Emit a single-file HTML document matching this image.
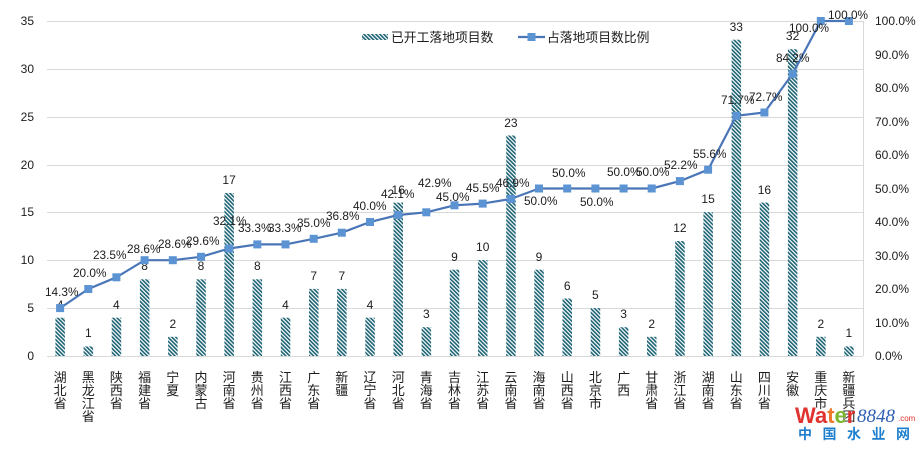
<!DOCTYPE html>
<html><head><meta charset="utf-8"><style>
html,body{margin:0;padding:0;background:#fff;}
svg{display:block;}
text{font-family:"Liberation Sans","Noto Sans CJK SC",sans-serif;fill:#1c1c1c;}
</style></head><body>
<svg width="923" height="451" viewBox="0 0 923 451" xmlns="http://www.w3.org/2000/svg">
<defs>
<pattern id="st" width="2.8" height="10" patternUnits="userSpaceOnUse" patternTransform="rotate(-45)">
<rect width="2.8" height="10" fill="#ffffff"/><rect width="1.6" height="10" fill="#1b6373"/>
</pattern>
</defs>
<rect width="923" height="451" fill="#fff"/>
<!-- gridlines -->
<g stroke="#d9d9d9" stroke-width="1">
<line x1="47" y1="21.5" x2="863" y2="21.5"/>
<line x1="47" y1="69.5" x2="863" y2="69.5"/>
<line x1="47" y1="117.5" x2="863" y2="117.5"/>
<line x1="47" y1="165.5" x2="863" y2="165.5"/>
<line x1="47" y1="212.5" x2="863" y2="212.5"/>
<line x1="47" y1="260.5" x2="863" y2="260.5"/>
<line x1="47" y1="308.5" x2="863" y2="308.5"/>
<line x1="47" y1="356.5" x2="863" y2="356.5"/>
<line x1="863.5" y1="21" x2="863.5" y2="356"/>
</g>
<!-- left axis -->
<g font-size="12" text-anchor="end">
<text x="34" y="25">35</text>
<text x="34" y="73">30</text>
<text x="34" y="121">25</text>
<text x="34" y="169">20</text>
<text x="34" y="216">15</text>
<text x="34" y="264">10</text>
<text x="34" y="312">5</text>
<text x="34" y="360">0</text>
</g>
<!-- right axis -->
<g font-size="12">
<text x="875" y="25">100.0%</text>
<text x="875" y="59">90.0%</text>
<text x="875" y="92">80.0%</text>
<text x="875" y="126">70.0%</text>
<text x="875" y="159">60.0%</text>
<text x="875" y="193">50.0%</text>
<text x="875" y="226">40.0%</text>
<text x="875" y="260">30.0%</text>
<text x="875" y="293">20.0%</text>
<text x="875" y="327">10.0%</text>
<text x="875" y="360">0.0%</text>
</g>
<!-- bars -->
<g fill="url(#st)">
<rect x="55.4" y="317.7" width="9.5" height="38.3"/>
<rect x="83.6" y="346.4" width="9.5" height="9.6"/>
<rect x="111.7" y="317.7" width="9.5" height="38.3"/>
<rect x="139.9" y="279.3" width="9.5" height="76.7"/>
<rect x="168.1" y="336.8" width="9.5" height="19.2"/>
<rect x="196.3" y="279.3" width="9.5" height="76.7"/>
<rect x="224.4" y="193.0" width="9.5" height="163.0"/>
<rect x="252.6" y="279.3" width="9.5" height="76.7"/>
<rect x="280.8" y="317.7" width="9.5" height="38.3"/>
<rect x="309.0" y="288.9" width="9.5" height="67.1"/>
<rect x="337.1" y="288.9" width="9.5" height="67.1"/>
<rect x="365.3" y="317.7" width="9.5" height="38.3"/>
<rect x="393.5" y="202.6" width="9.5" height="153.4"/>
<rect x="421.6" y="327.2" width="9.5" height="28.8"/>
<rect x="449.8" y="269.7" width="9.5" height="86.3"/>
<rect x="478.0" y="260.1" width="9.5" height="95.9"/>
<rect x="506.2" y="135.5" width="9.5" height="220.5"/>
<rect x="534.3" y="269.7" width="9.5" height="86.3"/>
<rect x="562.5" y="298.5" width="9.5" height="57.5"/>
<rect x="590.7" y="308.1" width="9.5" height="47.9"/>
<rect x="618.9" y="327.2" width="9.5" height="28.8"/>
<rect x="647.0" y="336.8" width="9.5" height="19.2"/>
<rect x="675.2" y="241.0" width="9.5" height="115.0"/>
<rect x="703.4" y="212.2" width="9.5" height="143.8"/>
<rect x="731.6" y="39.7" width="9.5" height="316.3"/>
<rect x="759.7" y="202.6" width="9.5" height="153.4"/>
<rect x="787.9" y="49.2" width="9.5" height="306.8"/>
<rect x="816.1" y="336.8" width="9.5" height="19.2"/>
<rect x="844.2" y="346.4" width="9.5" height="9.6"/>
</g>
<!-- bar labels -->
<g font-size="12" text-anchor="middle">
<text x="60.1" y="309">4</text>
<text x="88.3" y="337">1</text>
<text x="116.4" y="309">4</text>
<text x="144.6" y="270">8</text>
<text x="172.8" y="328">2</text>
<text x="201.0" y="270">8</text>
<text x="229.1" y="184">17</text>
<text x="257.3" y="270">8</text>
<text x="285.5" y="309">4</text>
<text x="313.7" y="280">7</text>
<text x="341.8" y="280">7</text>
<text x="370.0" y="309">4</text>
<text x="398.2" y="194">16</text>
<text x="426.3" y="318">3</text>
<text x="454.5" y="261">9</text>
<text x="482.7" y="251">10</text>
<text x="510.9" y="127">23</text>
<text x="539.0" y="261">9</text>
<text x="567.2" y="290">6</text>
<text x="595.4" y="299">5</text>
<text x="623.6" y="318">3</text>
<text x="651.7" y="328">2</text>
<text x="679.9" y="232">12</text>
<text x="708.1" y="203">15</text>
<text x="736.3" y="31">33</text>
<text x="764.4" y="194">16</text>
<text x="792.6" y="40">32</text>
<text x="820.8" y="328">2</text>
<text x="848.9" y="337">1</text>
</g>
<!-- line -->
<polyline fill="none" stroke="#4a76b8" stroke-width="2.2" stroke-linejoin="round" points="60.1,308.1 88.3,289.0 116.4,277.3 144.6,260.2 172.8,260.2 201.0,256.8 229.1,248.5 257.3,244.4 285.5,244.4 313.7,238.8 341.8,232.7 370.0,222.0 398.2,215.0 426.3,212.3 454.5,205.3 482.7,203.6 510.9,198.9 539.0,188.5 567.2,188.5 595.4,188.5 623.6,188.5 651.7,188.5 679.9,181.1 708.1,169.7 736.3,115.8 764.4,112.5 792.6,73.9 820.8,21.0 848.9,21.0"/>
<g fill="#5b93d3">
<rect x="56.1" y="304.1" width="8" height="8"/>
<rect x="84.3" y="285.0" width="8" height="8"/>
<rect x="112.4" y="273.3" width="8" height="8"/>
<rect x="140.6" y="256.2" width="8" height="8"/>
<rect x="168.8" y="256.2" width="8" height="8"/>
<rect x="197.0" y="252.8" width="8" height="8"/>
<rect x="225.1" y="244.5" width="8" height="8"/>
<rect x="253.3" y="240.4" width="8" height="8"/>
<rect x="281.5" y="240.4" width="8" height="8"/>
<rect x="309.7" y="234.8" width="8" height="8"/>
<rect x="337.8" y="228.7" width="8" height="8"/>
<rect x="366.0" y="218.0" width="8" height="8"/>
<rect x="394.2" y="211.0" width="8" height="8"/>
<rect x="422.3" y="208.3" width="8" height="8"/>
<rect x="450.5" y="201.3" width="8" height="8"/>
<rect x="478.7" y="199.6" width="8" height="8"/>
<rect x="506.9" y="194.9" width="8" height="8"/>
<rect x="535.0" y="184.5" width="8" height="8"/>
<rect x="563.2" y="184.5" width="8" height="8"/>
<rect x="591.4" y="184.5" width="8" height="8"/>
<rect x="619.6" y="184.5" width="8" height="8"/>
<rect x="647.7" y="184.5" width="8" height="8"/>
<rect x="675.9" y="177.1" width="8" height="8"/>
<rect x="704.1" y="165.7" width="8" height="8"/>
<rect x="732.3" y="111.8" width="8" height="8"/>
<rect x="760.4" y="108.5" width="8" height="8"/>
<rect x="788.6" y="69.9" width="8" height="8"/>
<rect x="816.8" y="17.0" width="8" height="8"/>
<rect x="844.9" y="17.0" width="8" height="8"/>
</g>
<!-- percent labels -->
<g font-size="11.8">
<text x="45" y="296">14.3%</text>
<text x="73" y="277">20.0%</text>
<text x="93" y="259">23.5%</text>
<text x="127" y="253">28.6%</text>
<text x="158" y="248">28.6%</text>
<text x="186" y="245">29.6%</text>
<text x="213" y="225">32.1%</text>
<text x="238" y="232">33.3%</text>
<text x="268" y="232">33.3%</text>
<text x="297" y="227">35.0%</text>
<text x="326" y="220">36.8%</text>
<text x="353" y="210">40.0%</text>
<text x="381" y="198">42.1%</text>
<text x="418" y="187">42.9%</text>
<text x="436" y="201">45.0%</text>
<text x="466" y="192">45.5%</text>
<text x="496" y="187">46.9%</text>
<text x="524" y="205">50.0%</text>
<text x="552" y="177">50.0%</text>
<text x="580" y="206">50.0%</text>
<text x="607" y="176">50.0%</text>
<text x="636" y="176">50.0%</text>
<text x="664" y="169">52.2%</text>
<text x="693" y="158">55.6%</text>
<text x="721" y="104">71.7%</text>
<text x="749" y="101">72.7%</text>
<text x="776" y="62">84.2%</text>
<text x="789" y="32">100.0%</text>
<text x="828" y="19">100.0%</text>
</g>
<!-- x labels -->
<g font-size="13" text-anchor="middle">
<text x="60.1" y="382">湖</text><text x="60.1" y="395">北</text><text x="60.1" y="408">省</text>
<text x="88.3" y="382">黑</text><text x="88.3" y="395">龙</text><text x="88.3" y="408">江</text><text x="88.3" y="421">省</text>
<text x="116.4" y="382">陕</text><text x="116.4" y="395">西</text><text x="116.4" y="408">省</text>
<text x="144.6" y="382">福</text><text x="144.6" y="395">建</text><text x="144.6" y="408">省</text>
<text x="172.8" y="382">宁</text><text x="172.8" y="395">夏</text>
<text x="201.0" y="382">内</text><text x="201.0" y="395">蒙</text><text x="201.0" y="408">古</text>
<text x="229.1" y="382">河</text><text x="229.1" y="395">南</text><text x="229.1" y="408">省</text>
<text x="257.3" y="382">贵</text><text x="257.3" y="395">州</text><text x="257.3" y="408">省</text>
<text x="285.5" y="382">江</text><text x="285.5" y="395">西</text><text x="285.5" y="408">省</text>
<text x="313.7" y="382">广</text><text x="313.7" y="395">东</text><text x="313.7" y="408">省</text>
<text x="341.8" y="382">新</text><text x="341.8" y="395">疆</text>
<text x="370.0" y="382">辽</text><text x="370.0" y="395">宁</text><text x="370.0" y="408">省</text>
<text x="398.2" y="382">河</text><text x="398.2" y="395">北</text><text x="398.2" y="408">省</text>
<text x="426.3" y="382">青</text><text x="426.3" y="395">海</text><text x="426.3" y="408">省</text>
<text x="454.5" y="382">吉</text><text x="454.5" y="395">林</text><text x="454.5" y="408">省</text>
<text x="482.7" y="382">江</text><text x="482.7" y="395">苏</text><text x="482.7" y="408">省</text>
<text x="510.9" y="382">云</text><text x="510.9" y="395">南</text><text x="510.9" y="408">省</text>
<text x="539.0" y="382">海</text><text x="539.0" y="395">南</text><text x="539.0" y="408">省</text>
<text x="567.2" y="382">山</text><text x="567.2" y="395">西</text><text x="567.2" y="408">省</text>
<text x="595.4" y="382">北</text><text x="595.4" y="395">京</text><text x="595.4" y="408">市</text>
<text x="623.6" y="382">广</text><text x="623.6" y="395">西</text>
<text x="651.7" y="382">甘</text><text x="651.7" y="395">肃</text><text x="651.7" y="408">省</text>
<text x="679.9" y="382">浙</text><text x="679.9" y="395">江</text><text x="679.9" y="408">省</text>
<text x="708.1" y="382">湖</text><text x="708.1" y="395">南</text><text x="708.1" y="408">省</text>
<text x="736.3" y="382">山</text><text x="736.3" y="395">东</text><text x="736.3" y="408">省</text>
<text x="764.4" y="382">四</text><text x="764.4" y="395">川</text><text x="764.4" y="408">省</text>
<text x="792.6" y="382">安</text><text x="792.6" y="395">徽</text>
<text x="820.8" y="382">重</text><text x="820.8" y="395">庆</text><text x="820.8" y="408">市</text>
<text x="848.9" y="382">新</text><text x="848.9" y="395">疆</text><text x="848.9" y="408">兵</text><text x="848.9" y="421">团</text>
</g>
<!-- legend -->
<rect x="362" y="34" width="26" height="6" fill="url(#st)"/>
<text x="391" y="42" font-size="12.8">已开工落地项目数</text>
<line x1="518" y1="37" x2="545" y2="37" stroke="#4a76b8" stroke-width="2.2"/>
<rect x="527.5" y="33" width="8" height="8" fill="#5b93d3"/>
<text x="547" y="42" font-size="12.8">占落地项目数比例</text>
<!-- watermark -->
<g font-weight="bold">
<text x="795" y="423" font-size="22" style="fill:#e0322e">Wa<tspan style="fill:#f0782a">t</tspan><tspan style="fill:#7cb82f">e</tspan><tspan style="fill:#e0322e">r</tspan></text>
</g>
<text x="857" y="422" font-size="19" font-style="italic" style="font-family:'Liberation Serif',serif;fill:#2e5fb5">8848</text>
<text x="898" y="421" font-size="8" style="fill:#e0322e">.com</text>
<text x="798" y="439" font-size="14" font-weight="bold" letter-spacing="10.5" style="fill:#1f7fcf">中国水业网</text>
</svg>
</body></html>
